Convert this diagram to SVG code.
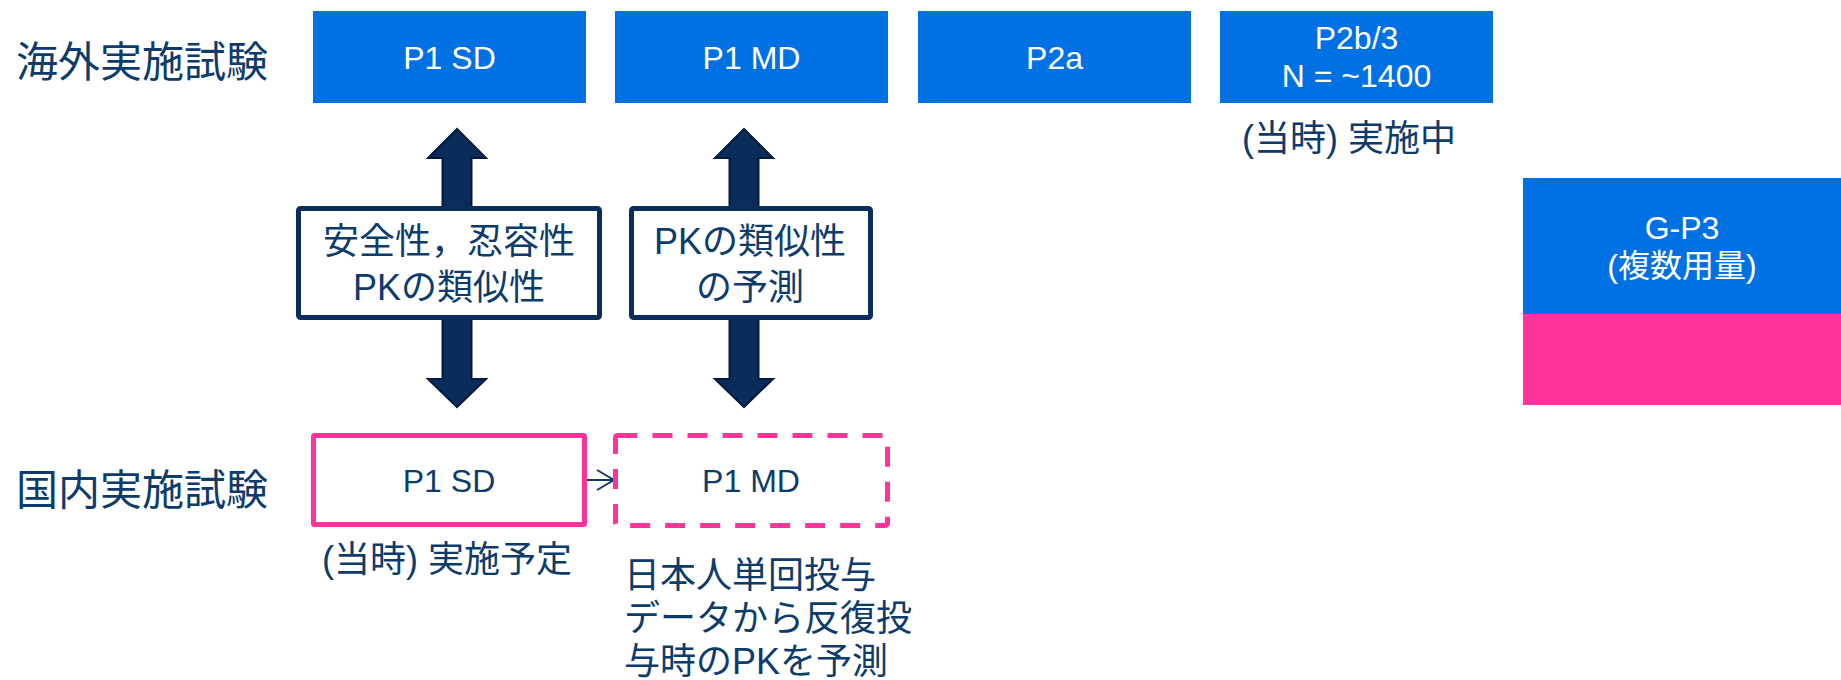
<svg xmlns="http://www.w3.org/2000/svg" width="1841" height="680" viewBox="0 0 1841 680">
  <defs>
    <style>
      .t { font-family: "Liberation Sans", "Noto Sans CJK JP", sans-serif; }
      .title { font-size: 42px; fill: #0C3B6C; }
      .box { fill: #0071E3; }
      .wt { font-size: 32px; fill: #FFFFFF; text-anchor: middle; }
      .nt { font-size: 32px; fill: #0C3B6C; text-anchor: middle; }
      .lt { font-size: 36px; fill: #0C3B6C; }
      .mid { text-anchor: middle; }
      .lbl { fill: #FFFFFF; stroke: #0A2E5C; stroke-width: 5; }
      .dbl { fill: #0A2C5A; stroke: #021B3D; stroke-width: 2; stroke-linejoin: miter; }
      .pink { fill: #FFFFFF; stroke: #FF3399; stroke-width: 5; }
    </style>
    <marker id="open" markerUnits="userSpaceOnUse" markerWidth="22" markerHeight="24" refX="18" refY="11" orient="auto">
      <path d="M1,1 L18,11 L1,21" fill="none" stroke="#0C3B6C" stroke-width="2"/>
    </marker>
  </defs>
  <rect width="1841" height="680" fill="#FFFFFF"/>

  <g id="label-overseas">
    <text class="t title" x="16" y="77">海外実施試験</text>
  </g>
  <g id="label-domestic">
    <text class="t title" x="16" y="505">国内実施試験</text>
  </g>

  <g id="connectors">
    <path class="dbl" d="M457,129 L486,158 L471.5,158 L471.5,379 L486,379 L457,407 L428,379 L442.5,379 L442.5,158 L428,158 Z"/>
    <path class="dbl" d="M744,129 L773,158 L758.5,158 L758.5,379 L773,379 L744,407 L715,379 L729.5,379 L729.5,158 L715,158 Z"/>
    <line x1="587" y1="480" x2="614" y2="480" stroke="#0C3B6C" stroke-width="2" marker-end="url(#open)"/>
  </g>

  <g id="os-p1sd">
    <rect class="box" x="313" y="11" width="273" height="92"/>
    <text class="t wt" x="449.5" y="69">P1 SD</text>
  </g>
  <g id="os-p1md">
    <rect class="box" x="615" y="11" width="273" height="92"/>
    <text class="t wt" x="751.5" y="69">P1 MD</text>
  </g>
  <g id="os-p2a">
    <rect class="box" x="918" y="11" width="273" height="92"/>
    <text class="t wt" x="1054.5" y="69">P2a</text>
  </g>
  <g id="os-p2b3">
    <rect class="box" x="1220" y="11" width="273" height="92"/>
    <text class="t wt" x="1356.5" y="49">P2b/3</text>
    <text class="t wt" x="1356.5" y="87">N = ~1400</text>
    <text class="t lt" x="1242" y="151">(当時) 実施中</text>
  </g>
  <g id="gp3">
    <rect class="box" x="1523" y="178" width="318" height="137"/>
    <rect x="1523" y="314" width="318" height="91" fill="#FF3399"/>
    <text class="t wt" x="1682" y="239">G-P3</text>
    <text class="t wt" x="1682" y="277">(複数用量)</text>
  </g>

  <g id="note-safety">
    <rect class="lbl" x="298.5" y="208.5" width="301" height="109" rx="2"/>
    <text class="t lt mid" x="449" y="254">安全性，忍容性</text>
    <text class="t lt mid" x="449" y="300">PKの類似性</text>
  </g>
  <g id="note-pk">
    <rect class="lbl" x="631.5" y="208.5" width="239" height="109" rx="2"/>
    <text class="t lt mid" x="750" y="254">PKの類似性</text>
    <text class="t lt mid" x="750" y="300">の予測</text>
  </g>

  <g id="jp-p1sd">
    <rect class="pink" x="313.5" y="435.5" width="271" height="89" rx="1"/>
    <text class="t nt" x="449" y="492">P1 SD</text>
    <text class="t lt mid" x="447" y="572">(当時) 実施予定</text>
  </g>
  <g id="jp-p1md">
    <rect class="pink" x="615.5" y="435.5" width="272" height="90" rx="2" stroke-dasharray="20 15"/>
    <text class="t nt" x="751" y="492">P1 MD</text>
    <text class="t lt" x="624" y="588">日本人単回投与</text>
    <text class="t lt" x="624" y="631">データから反復投</text>
    <text class="t lt" x="624" y="674">与時のPKを予測</text>
  </g>
</svg>
